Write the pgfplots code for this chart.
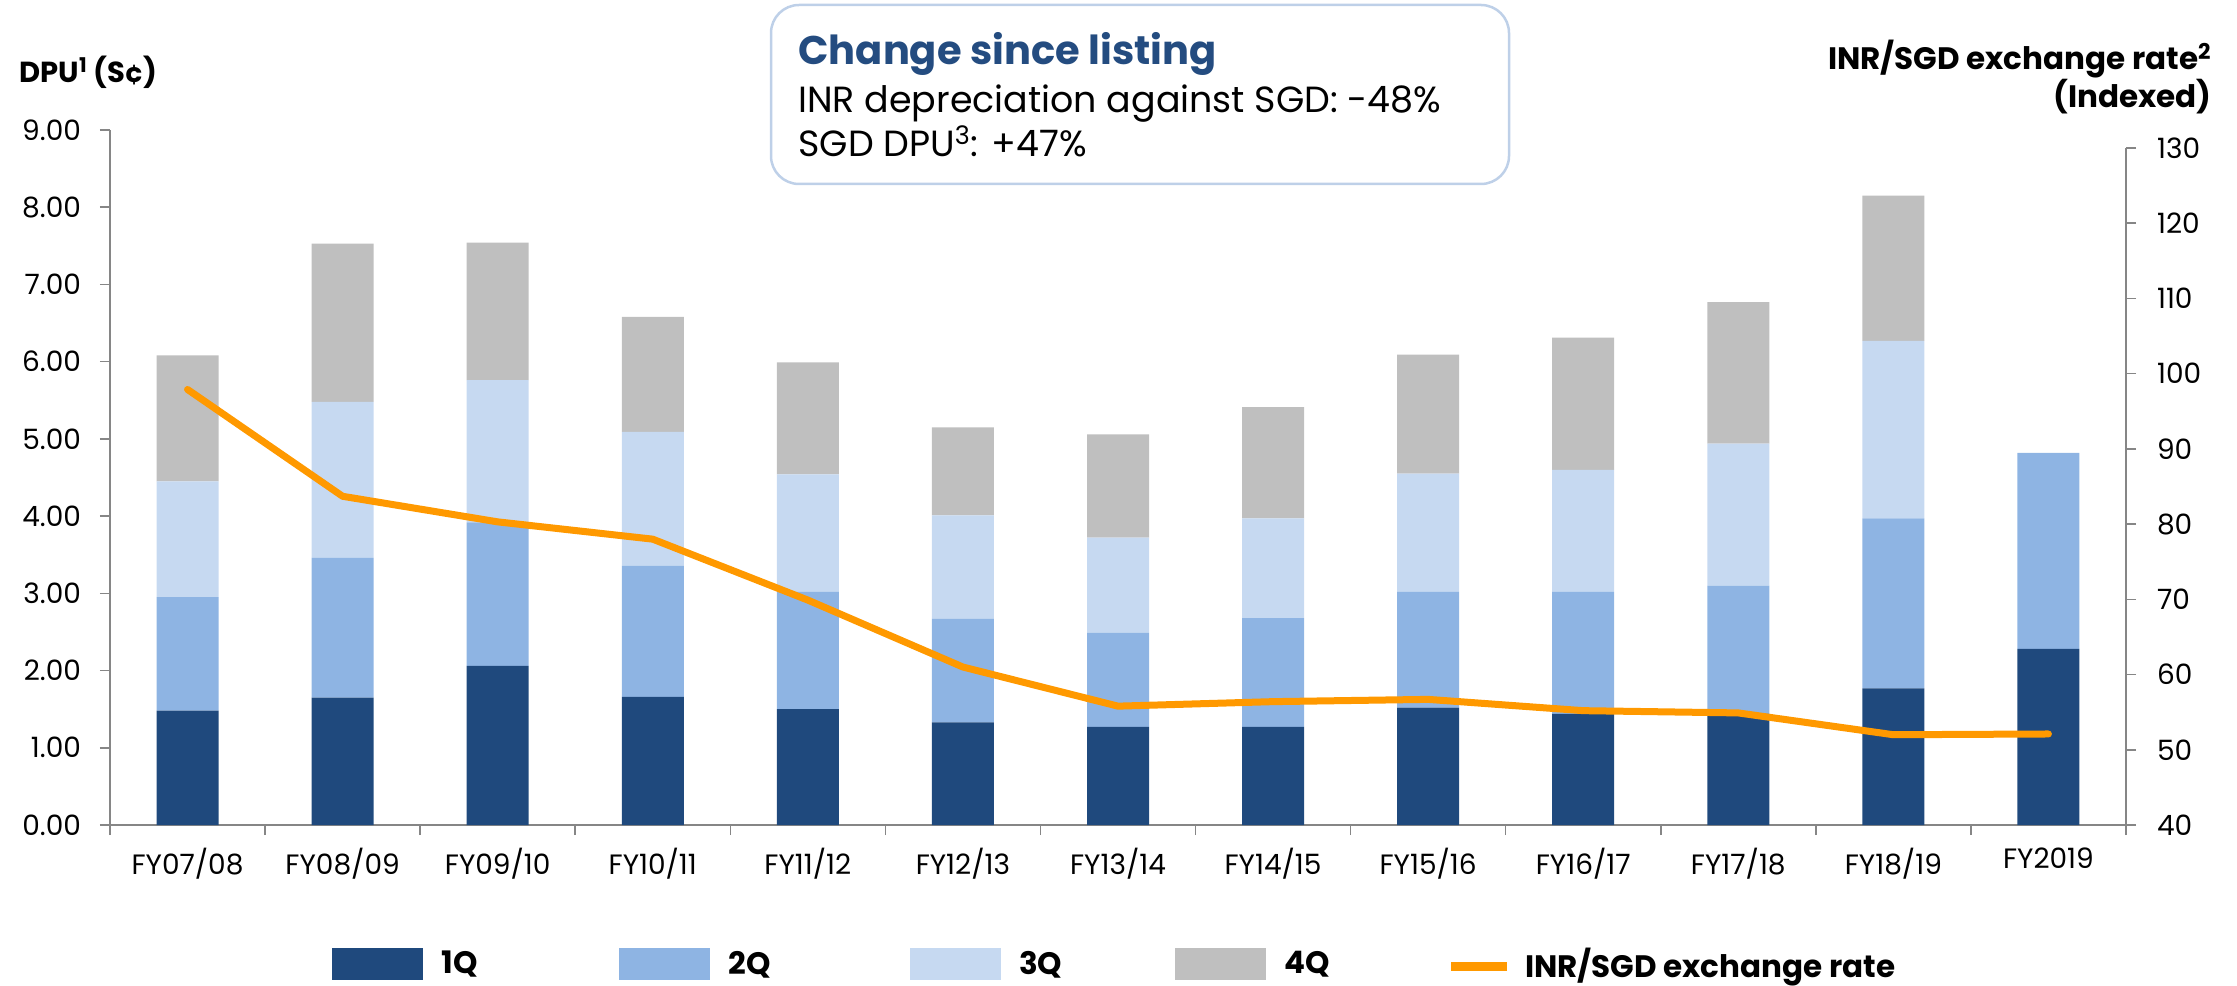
\documentclass[border=0pt]{standalone}
\usepackage{pgfplots}
\pgfplotsset{compat=1.18}
\usepackage{pgfplotstable}
\usepackage{fontspec}
\setmainfont{Poppins}
\definecolor{q1}{RGB}{31,73,125}
\definecolor{q2}{RGB}{142,180,227}
\definecolor{q3}{RGB}{198,217,241}
\definecolor{q4}{RGB}{191,191,191}
\definecolor{fx}{RGB}{255,153,0}
\definecolor{axgray}{RGB}{134,134,134}
\definecolor{boxblue}{RGB}{190,208,232}
\definecolor{titleblue}{RGB}{36,76,128}

\pgfplotstableread{
x q1 q2 q3 q4 fx
0 1.48 1.47 1.50 1.63 97.9
1 1.65 1.81 2.02 2.05 83.7
2 2.06 1.86 1.84 1.78 80.3
3 1.66 1.70 1.73 1.49 78.0
4 1.50 1.52 1.52 1.45 69.9
5 1.33 1.34 1.34 1.14 61.0
6 1.27 1.22 1.23 1.34 55.8
7 1.27 1.41 1.29 1.44 56.4
8 1.52 1.50 1.53 1.54 56.7
9 1.44 1.58 1.58 1.71 55.2
10 1.44 1.66 1.84 1.83 54.9
11 1.77 2.20 2.30 1.88 52.0
12 2.28 2.54 0 0 52.1
}\datatable

\pgfplotsset{
  barleg/.style={legend image code/.code={\fill[##1] (0pt,-8pt) rectangle (45.5pt,8pt);}},
  lineleg/.style={legend image code/.code={\fill[fx] (0pt,-3pt) rectangle (27.5pt,1pt);}},
}

\begin{document}
\begin{tikzpicture}
\useasboundingbox (-55pt,-80pt) rectangle (1063.5pt,412.5pt);
\begin{axis}[
  at={(0pt,0pt)}, anchor=south west,
  scale only axis, width=1008pt, height=347.5pt,
  xmin=-0.5, xmax=12.5, ymin=0, ymax=9,
  ybar stacked, bar width=31pt,
  axis x line*=bottom, axis y line*=left,
  axis line style={axgray, line width=0.75pt, -},
  tick style={axgray, line width=0.75pt},
  tick align=outside, major tick length=5pt,
  ytick={0,1,...,9},
  /pgf/number format/assume math mode=true,
  yticklabel style={/pgf/number format/fixed, /pgf/number format/fixed zerofill, /pgf/number format/precision=2, font=\fontsize{14}{16}\selectfont, xshift=-6pt},
  xtick={-0.5,0.5,...,12.5}, xticklabels={},
  extra x ticks={0,1,...,12},
  extra x tick labels={FY07/08,FY08/09,FY09/10,FY10/11,FY11/12,FY12/13,FY13/14,FY14/15,FY15/16,FY16/17,FY17/18,FY18/19,FY2019},
  extra x tick style={tick style={draw=none}},
  xticklabel style={font=\fontsize{14}{16}\selectfont, yshift=-3pt},
  legend columns=5,
  legend cell align=left,
  legend style={at={(111pt,-69.5pt)}, anchor=west, draw=none, fill=none, inner sep=0pt,
    font=\fontsize{15.5}{18}\selectfont\bfseries,
    /tikz/every even column/.append style={column sep=40pt},
    /tikz/every odd column/.append style={column sep=7.2pt}},
]
\addplot[fill=q1, draw=none, barleg] table[x=x, y=q1]{\datatable};
\addplot[fill=q2, draw=none, barleg] table[x=x, y=q2]{\datatable};
\addplot[fill=q3, draw=none, barleg] table[x=x, y=q3]{\datatable};
\addplot[fill=q4, draw=none, barleg] table[x=x, y=q4]{\datatable};
\addlegendentry{\makebox[46.6pt][l]{1Q}}
\addlegendentry{\makebox[48.6pt][l]{2Q}}
\addlegendentry{\makebox[36.1pt][l]{3Q}}
\addlegendentry{\makebox[41.1pt][l]{4Q}}
\addlegendimage{lineleg}
\addlegendentry{INR/SGD exchange rate}
\end{axis}
\begin{axis}[
  at={(0pt,0pt)}, anchor=south west,
  scale only axis, width=1008pt, height=338.5pt,
  xmin=-0.5, xmax=12.5, ymin=40, ymax=130,
  axis y line*=right, axis x line=none,
  axis line style={axgray, line width=0.75pt, -},
  tick style={axgray, line width=0.75pt},
  tick align=outside, major tick length=5pt,
  ytick={40,50,...,130},
  /pgf/number format/assume math mode=true,
  yticklabel style={font=\fontsize{14}{16}\selectfont, xshift=7pt},
]
\addplot[fx, line width=3.5pt, line join=round, line cap=round] table[x=x, y=fx]{\datatable};
\end{axis}
% title box
\draw[boxblue, line width=1.25pt, rounded corners=14pt] (330.5pt,320.5pt) rectangle (699.5pt,410pt);
\node[anchor=base west, inner sep=0pt, text=titleblue] at (344pt,380pt) {\fontsize{20}{24}\selectfont\bfseries Change since listing};
\node[anchor=base west, inner sep=0pt] at (344pt,356pt) {\fontsize{18.2}{21}\selectfont INR depreciation against SGD: -48\%};
\node[anchor=base west, inner sep=0pt] at (344pt,334pt) {\fontsize{18.2}{21}\selectfont SGD DPU\textsuperscript{3}: +47\%};
% axis titles
\node[anchor=base west, inner sep=0pt] at (-45.5pt,371pt) {\fontsize{14.5}{17}\selectfont\bfseries DPU\textsuperscript{1} (S¢)};
\node[anchor=base east, inner sep=0pt] at (1051pt,377.5pt) {\fontsize{15.5}{18}\selectfont\bfseries INR/SGD exchange rate\textsuperscript{2}};
\node[anchor=base east, inner sep=0pt] at (1051pt,358.5pt) {\fontsize{15.5}{18}\selectfont\bfseries (Indexed)};
\end{tikzpicture}
\end{document}
